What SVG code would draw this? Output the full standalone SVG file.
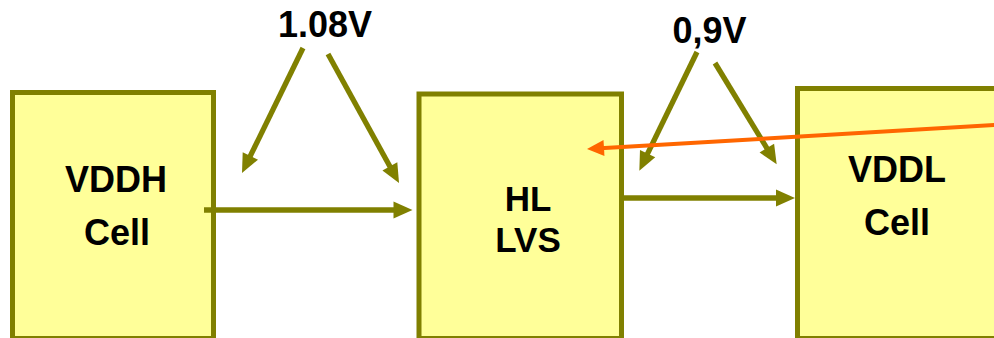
<svg xmlns="http://www.w3.org/2000/svg" width="994" height="338" viewBox="0 0 994 338">
<style>
.box{fill:#FFFF99;stroke:#808000;stroke-width:5}
.t{font-family:"Liberation Sans",Arial,sans-serif;font-weight:bold;font-size:36px;fill:#000;text-anchor:middle}
.c{fill:none;stroke:#808000;stroke-width:5.3;marker-end:url(#ah)}
.o{fill:none;stroke:#FF6600;stroke-width:4;marker-end:url(#oh)}
</style>
<defs>
<marker id="ah" markerUnits="userSpaceOnUse" markerWidth="20" markerHeight="18" refX="9" refY="8.5" orient="auto" overflow="visible">
<path d="M0,0 L19,8.5 L0,17 z" fill="#808000"/>
</marker>
<marker id="oh" markerUnits="userSpaceOnUse" markerWidth="18" markerHeight="17" refX="8" refY="8" orient="auto" overflow="visible">
<path d="M0,0 L17,8 L0,16 z" fill="#FF6600"/>
</marker>
</defs>
<rect width="994" height="338" fill="#fff"/>
<g id="vddh">
<rect class="box" x="12.5" y="92.5" width="201" height="246"/>
<text class="t" x="116" y="192">VDDH</text>
<text class="t" x="117" y="245">Cell</text>
</g>
<g id="hl">
<rect class="box" x="419" y="94" width="202.5" height="244.5"/>
<text class="t" x="528" y="211" style="font-size:35px">HL</text>
<text class="t" x="528" y="252" style="font-size:35px">LVS</text>
</g>
<g id="vddl">
<rect class="box" x="797.5" y="88.5" width="210" height="250"/>
<text class="t" x="897" y="182">VDDL</text>
<text class="t" x="897" y="235">Cell</text>
</g>
<g id="label-108">
<text class="t" x="325" y="37">1.08V</text>
</g>
<g id="label-09">
<text class="t" x="709.5" y="43">0,9V</text>
</g>
<g id="connectors">
<line class="c" x1="303" y1="48" x2="246.4" y2="164"/>
<line class="c" x1="328" y1="54" x2="394.2" y2="174.2"/>
<line class="c" x1="204" y1="210" x2="402.5" y2="210"/>
<line class="c" x1="697" y1="52" x2="643.7" y2="161.7"/>
<line class="c" x1="715" y1="63" x2="771.5" y2="155.8"/>
<line class="c" x1="622" y1="198" x2="785" y2="198"/>
<line class="o" x1="996" y1="125" x2="596" y2="148.5"/>
</g>
</svg>
